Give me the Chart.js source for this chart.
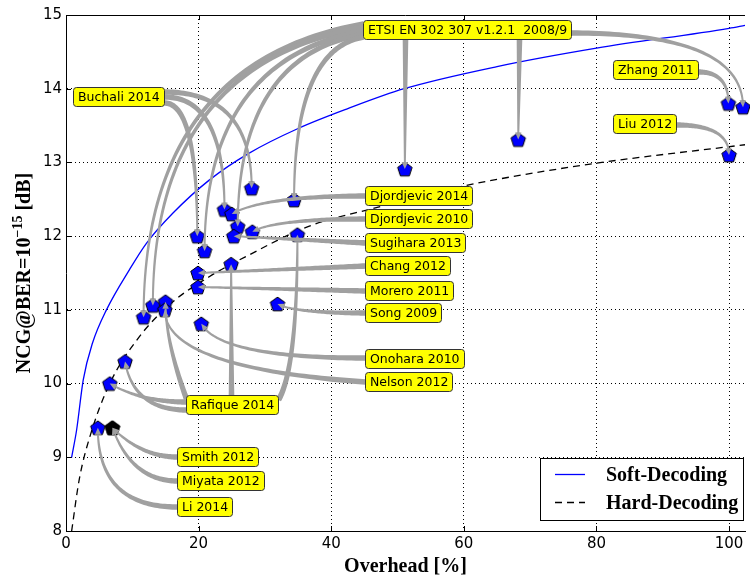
<!DOCTYPE html>
<html>
<head>
<meta charset="utf-8">
<script src="https://cdn.jsdelivr.net/npm/chart.js@4/dist/chart.umd.min.js"></script>
<style>
  html, body { margin: 0; padding: 0; background: #fff; }
</style>
</head>
<body>
<canvas id="chart" width="750" height="577"></canvas>
<script>
// curves
const softX = [0.85, 1.6, 2.6, 4, 6.1, 9.6, 12.1, 16.1, 21.6, 27.5, 35, 42.5, 51, 65, 80, 100, 102.4];
const softY = [9.0, 9.37, 10.05, 10.55, 11.0, 11.55, 11.9, 12.31, 12.76, 13.12, 13.46, 13.73, 14.0, 14.3, 14.55, 14.82, 14.86];
const hardX = [0.85, 2, 3.6, 6.6, 11.1, 16, 21.6, 27.5, 36.5, 46.5, 60, 65, 80, 102.4];
const hardY = [8.0, 8.7, 9.28, 10.0, 10.64, 11.1, 11.45, 11.74, 12.13, 12.38, 12.68, 12.77, 12.99, 13.24];

// published codes (blue pentagons)
const codeX = [4.8, 6.6, 8.9, 11.7, 13.1, 15.0, 14.9, 20.4, 19.8, 20.9, 19.9, 19.9, 24.9, 31.9,
               23.9, 25.0, 25.9, 25.3, 28.1, 34.9, 34.4, 28.0, 51.1, 68.2, 99.9, 102.1, 100.0];
const codeY = [9.4, 10.0, 10.3, 10.9, 11.06, 11.11, 11.0, 10.81, 12.0, 11.8, 11.5, 11.31, 11.62, 11.08,
               12.36, 12.3, 12.13, 12.0, 12.06, 12.02, 12.49, 12.65, 12.91, 13.31, 13.80, 13.75, 13.1];
// the black pentagon(s)
const blackX = [7.0, 7.0];
const blackY = [9.4, 9.4];

const xTicks = [0, 20, 40, 60, 80, 100];
const yTicks = [8, 9, 10, 11, 12, 13, 14, 15];

const noteText = ['ETSI EN 302 307 v1.2.1  2008/9', 'Buchali 2014', 'Zhang 2011', 'Liu 2012',
  'Djordjevic 2014', 'Djordjevic 2010', 'Sugihara 2013', 'Chang 2012', 'Morero 2011', 'Song 2009',
  'Onohara 2010', 'Nelson 2012', 'Rafique 2014', 'Smith 2012', 'Miyata 2012', 'Li 2014'];

// label placement (left edge / vertical centre, in data units)
const noteX = [44.8, 1.09, 82.5, 82.5, 45.1, 45.1, 45.1, 45.1, 45.1, 45.1, 45.1, 45.1, 18.05, 16.8, 16.8, 16.8];
const noteY = [14.80, 13.89, 14.26, 13.52, 12.54, 12.23, 11.91, 11.59, 11.25, 10.96, 10.33, 10.02, 9.71, 9.0, 8.68, 8.33];

// [label, dataset, point, side, offset px, angleA, angleB]
const arrows = [
  [0, 2, 3, 'l', -6, 10, 90],
  [0, 2, 4, 'l', -3, 10, 90],
  [0, 2, 9, 'l', 1, 10, 90],
  [0, 2, 16, 'l', 4, 10, 90],
  [0, 2, 20, 'l', 7, 10, 90],
  [0, 2, 22, 'b', 42, 90, 90],
  [0, 2, 23, 'b', 156, 90, 90],
  [0, 2, 25, 'r', 3, 0, 90],
  [1, 2, 21, 'r', -5, 0, 90],
  [1, 2, 14, 'r', 0, 0, 90],
  [1, 2, 8, 'r', 6, 0, 90],
  [2, 2, 24, 'r', 2, 0, 90],
  [3, 2, 26, 'r', 1, 0, 90],
  [4, 2, 15, 'l', 0, 0, 30],
  [5, 2, 18, 'l', 0, 0, 30],
  [6, 2, 17, 'l', 0, 0, 0],
  [7, 2, 10, 'l', 0, 0, 0],
  [8, 2, 11, 'l', 0, 0, 0],
  [9, 2, 13, 'l', 0, 0, -30],
  [10, 2, 7, 'l', -1, 0, -60],
  [11, 2, 6, 'l', 0, -4, 90],
  [12, 2, 1, 'l', -3, 0, -30],
  [12, 2, 2, 'l', 5, 0, -80],
  [12, 2, 5, 'l', -6, 110, 90],
  [12, 2, 12, 't', 45, 90, 90],
  [12, 2, 19, 'r', -5, 60, 90],
  [13, 3, 0, 'l', 0, 0, -45],
  [14, 3, 0, 'l', 0, 0, -70],
  [15, 2, 0, 'l', 0, 0, 90],
];

const pentagon = (fill) => {
    const s = 18, r = 7.6;
    const c = document.createElement('canvas');
    c.width = s; c.height = s;
    const g = c.getContext('2d');
    g.beginPath();
    for (let k = 0; k < 5; k++) {
        const a = -Math.PI / 2 + k * 2 * Math.PI / 5;
        g.lineTo(s / 2 + r * Math.cos(a), s / 2 + 0.7 + r * Math.sin(a));
    }
    g.closePath();
    g.fillStyle = fill;
    g.fill();
    g.lineWidth = 1;
    g.strokeStyle = '#000';
    g.stroke();
    return c;
};

const pts = (xs, ys) => xs.map((v, i) => ({ x: v, y: ys[i] }));

const ctrlPoint = (p0, p2, a, b) => {
    const ra = a * Math.PI / 180, rb = b * Math.PI / 180;
    const da = [Math.cos(ra), -Math.sin(ra)], db = [Math.cos(rb), -Math.sin(rb)];
    const det = -da[0] * db[1] + db[0] * da[1];
    if (Math.abs(det) < 1e-6) return [(p0[0] + p2[0]) / 2, (p0[1] + p2[1]) / 2];
    const rx = p2[0] - p0[0], ry = p2[1] - p0[1];
    const s = (-rx * db[1] + db[0] * ry) / det;
    return [p0[0] + s * da[0], p0[1] + s * da[1]];
};

const wedge = (ctx, p0, c, p2) => {
    const N = 60, q = [], len = [0];
    for (let k = 0; k <= N; k++) {
        const t = k / N, u = 1 - t;
        q.push([u * u * p0[0] + 2 * u * t * c[0] + t * t * p2[0], u * u * p0[1] + 2 * u * t * c[1] + t * t * p2[1]]);
        if (k) len.push(len[k - 1] + Math.hypot(q[k][0] - q[k - 1][0], q[k][1] - q[k - 1][1]));
    }
    const L = len[N], headLen = Math.min(7, L * 0.3), stop = L - headLen;
    const s1 = [], s2 = [];
    let base = q[0];
    for (let k = 0; k <= N; k++) {
        let p = q[k];
        const last = len[k] >= stop && k > 0;
        if (last) {
            const f = (stop - len[k - 1]) / (len[k] - len[k - 1] || 1);
            p = [q[k - 1][0] + f * (q[k][0] - q[k - 1][0]), q[k - 1][1] + f * (q[k][1] - q[k - 1][1])];
        }
        const a = q[Math.min(k + 1, N)], b = q[Math.max(k - 1, 0)];
        let dx = a[0] - b[0], dy = a[1] - b[1];
        const d = Math.hypot(dx, dy) || 1;
        dx /= d; dy /= d;
        const w = (5.6 - 3.6 * Math.min(len[k], stop) / stop) / 2;
        s1.push([p[0] - dy * w, p[1] + dx * w]);
        s2.push([p[0] + dy * w, p[1] - dx * w]);
        base = p;
        if (last) break;
    }
    ctx.beginPath();
    s1.forEach((p, i) => i ? ctx.lineTo(p[0], p[1]) : ctx.moveTo(p[0], p[1]));
    for (let i = s2.length - 1; i >= 0; i--) ctx.lineTo(s2[i][0], s2[i][1]);
    ctx.closePath();
    ctx.fill();
    const hx = p2[0] - base[0], hy = p2[1] - base[1], hd = Math.hypot(hx, hy) || 1;
    const nx = -hy / hd * 3.2, ny = hx / hd * 3.2;
    ctx.beginPath();
    ctx.moveTo(base[0] + nx, base[1] + ny);
    ctx.lineTo(p2[0], p2[1]);
    ctx.lineTo(base[0] - nx, base[1] - ny);
    ctx.closePath();
    ctx.fill();
};

const deco = {
    id: 'deco',
    afterDatasetsDraw(chart) {
        const { ctx, scales: { x, y } } = chart;
        ctx.save();
        ctx.font = '12.5px "DejaVu Sans"';
        const boxes = noteText.map((t, i) => {
            const left = Math.round(x.getPixelForValue(noteX[i])) + 0.5;
            const cy = Math.round(y.getPixelForValue(noteY[i]));
            const w = Math.round(ctx.measureText(t).width + 9);
            return { left, right: left + w, top: cy - 10, bottom: cy + 10, cy, w };
        });
        ctx.fillStyle = '#a0a0a0';
        arrows.forEach(([n, ds, i, side, off, a, b]) => {
            const bx = boxes[n];
            let p0;
            if (side === 'l') p0 = [bx.left, bx.cy + off];
            else if (side === 'r') p0 = [bx.right, bx.cy + off];
            else if (side === 'b') p0 = [bx.left + off, bx.bottom];
            else p0 = [bx.left + off, bx.top];
            const el = chart.getDatasetMeta(ds).data[i];
            const p2 = [el.x, el.y];
            wedge(ctx, p0, ctrlPoint(p0, p2, a, b), p2);
        });
        boxes.forEach((bx, i) => {
            ctx.beginPath();
            ctx.roundRect(bx.left, bx.top + 0.5, bx.w, 19, 3);
            ctx.fillStyle = '#ffff00';
            ctx.fill();
            ctx.lineWidth = 1;
            ctx.strokeStyle = '#333';
            ctx.stroke();
            ctx.fillStyle = '#000';
            ctx.textBaseline = 'middle';
            ctx.textAlign = 'left';
            ctx.fillText(noteText[i], bx.left + 4.5, bx.cy + 0.5);
        });
        ctx.restore();
    },
    afterDraw(chart) {
        const { ctx, chartArea: { left, right, top, bottom }, scales: { x, y } } = chart;
        ctx.save();
        ctx.strokeStyle = '#000';
        ctx.lineWidth = 1;
        ctx.beginPath();
        ctx.moveTo(left, top + 0.5);
        ctx.lineTo(right, top + 0.5);
        xTicks.forEach((v) => {
            const px = Math.round(x.getPixelForValue(v)) + 0.5;
            ctx.moveTo(px, bottom); ctx.lineTo(px, bottom - 5);
            ctx.moveTo(px, top); ctx.lineTo(px, top + 5);
        });
        yTicks.forEach((v) => {
            const py = Math.round(y.getPixelForValue(v)) + 0.5;
            ctx.moveTo(left, py); ctx.lineTo(left + 5, py);
        });
        ctx.stroke();

        // y axis title with a real superscript
        const big = 'bold 20px "Liberation Serif"', small = 'bold 14px "Liberation Serif"';
        const p1 = 'NCG@BER=10', p2 = '\u221215', p3 = ' [dB]';
        ctx.font = big;
        const w1 = ctx.measureText(p1).width, w3 = ctx.measureText(p3).width;
        ctx.font = small;
        const w2 = ctx.measureText(p2).width;
        const total = w1 + w2 + w3;
        ctx.translate(23, (top + bottom) / 2);
        ctx.rotate(-Math.PI / 2);
        ctx.fillStyle = '#000';
        ctx.textBaseline = 'alphabetic';
        ctx.textAlign = 'left';
        let cx = -total / 2;
        ctx.font = big; ctx.fillText(p1, cx, 7); cx += w1;
        ctx.font = small; ctx.fillText(p2, cx, -1); cx += w2;
        ctx.font = big; ctx.fillText(p3, cx, 7);
        ctx.setTransform(1, 0, 0, 1, 0, 0);

        // legend in the lower right corner
        ctx.fillStyle = '#fff';
        ctx.fillRect(540.5, 458.5, 203, 62);
        ctx.strokeRect(540.5, 458.5, 203, 62);
        ctx.font = 'bold 20px "Liberation Serif"';
        ctx.textBaseline = 'middle';
        [0, 1].forEach((d, k) => {
            const ds = chart.data.datasets[d];
            const ly = 474.5 + k * 28;
            ctx.strokeStyle = ds.borderColor;
            ctx.lineWidth = ds.borderWidth;
            ctx.setLineDash(ds.borderDash || []);
            ctx.beginPath();
            ctx.moveTo(555, ly); ctx.lineTo(585, ly);
            ctx.stroke();
            ctx.setLineDash([]);
            ctx.fillStyle = '#000';
            ctx.fillText(ds.label, 606, ly + 1);
        });
        ctx.restore();
    }
};

new Chart(document.getElementById('chart'), {
    type: 'scatter',
    data: {
        datasets: [
            {
                label: 'Soft-Decoding',
                data: pts(softX, softY),
                showLine: true,
                borderColor: '#0000ff',
                borderWidth: 1.3,
                pointRadius: 0,
                cubicInterpolationMode: 'monotone',
                order: 2,
            },
            {
                label: 'Hard-Decoding',
                data: pts(hardX, hardY),
                showLine: true,
                borderColor: '#000000',
                borderWidth: 1.3,
                borderDash: [7, 5],
                pointRadius: 0,
                cubicInterpolationMode: 'monotone',
                order: 2,
            },
            {
                label: 'codes',
                data: pts(codeX, codeY),
                pointStyle: pentagon('#0000ff'),
                clip: false,
                order: 1,
            },
            {
                label: 'codes (black)',
                data: pts(blackX, blackY),
                pointStyle: pentagon('#000000'),
                clip: false,
                order: 0,
            },
        ],
    },
    options: {
        responsive: false,
        animation: false,
        devicePixelRatio: 1,
        layout: { padding: { left: 0, right: 0, top: 15, bottom: 0 } },
        plugins: { legend: { display: false }, tooltip: { enabled: false } },
        scales: {
            x: {
                type: 'linear',
                min: 0,
                max: 102.4,
                afterBuildTicks: (s) => { s.ticks = xTicks.map((v) => ({ value: v })); },
                afterFit: (s) => { s.height = 46; s.paddingLeft = 0; s.paddingRight = 0; },
                grid: { color: '#000', lineWidth: 1, drawTicks: false },
                border: { display: true, color: '#000', width: 1, dash: [1, 3] },
                ticks: { color: '#000', font: { family: 'DejaVu Sans', size: 15 }, padding: 4, maxRotation: 0 },
                title: {
                    display: true,
                    text: 'Overhead [%]',
                    color: '#000',
                    font: { family: 'Liberation Serif', size: 20, weight: 'bold', lineHeight: 1 },
                    padding: 0,
                },
            },
            y: {
                type: 'linear',
                min: 8,
                max: 15,
                afterBuildTicks: (s) => { s.ticks = yTicks.map((v) => ({ value: v })); },
                afterFit: (s) => { s.width = 66; s.paddingTop = 0; s.paddingBottom = 0; },
                grid: { color: '#000', lineWidth: 1, drawTicks: false },
                border: { display: true, color: '#000', width: 1, dash: [1, 3] },
                ticks: { color: '#000', font: { family: 'DejaVu Sans', size: 15 }, padding: 4 },
            },
        },
    },
    plugins: [deco],
});
</script>
</body>
</html>
